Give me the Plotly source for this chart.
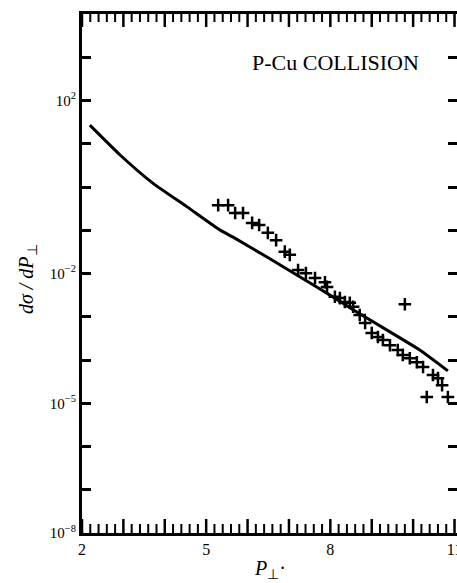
import plotly.graph_objects as go

# Theory curve
curve_pt = [2.19, 2.92, 3.71, 4.54, 5.33, 5.65, 6.47, 7.27, 8.06, 8.55, 9.37, 10.16, 10.84]
curve_val = [26.9, 5.50, 1.23, 0.347, 0.102, 0.0692, 0.0240, 0.00832, 0.00288,
             0.00145, 4.9e-4, 1.7e-4, 5.6e-5]

# Experimental points (crosses)
data_pt = [5.29, 5.53, 5.70, 5.89, 6.11, 6.28, 6.49, 6.69, 6.90, 7.02, 7.22, 7.41,
           7.63, 7.87, 7.92, 8.11, 8.23, 8.35, 8.47, 8.55, 8.71, 8.84, 9.00, 9.15,
           9.27, 9.44, 9.63, 9.75, 9.92, 10.09, 10.24, 10.48, 10.60, 10.70, 10.33,
           10.84, 9.80]
data_val = [0.38, 0.38, 0.25, 0.25, 0.148, 0.132, 0.087, 0.059, 0.032, 0.027, 0.012,
            0.0102, 0.0079, 0.0063, 0.0049, 0.0029, 0.0027, 0.0022, 0.0021, 0.0017,
            0.0011, 7.2e-4, 4.2e-4, 3.4e-4, 2.9e-4, 2.2e-4, 1.7e-4, 1.3e-4, 1.1e-4,
            8.9e-5, 6.9e-5, 4.5e-5, 3.8e-5, 2.6e-5, 1.4e-5, 1.4e-5, 0.00195]

# x ticks: labels at 2, 5, 8, 11; major tick every unit, minor every 0.2
x_tick_vals = [2, 5, 8, 11]
x_tick_text = ["2", "5", "8", "11"]
x_major_ticks = [2, 3, 4, 5, 6, 7, 8, 9, 10, 11]
x_minor_step = 0.2
y_tick_vals = [1e-8, 1e-7, 1e-6, 1e-5, 1e-4, 1e-3, 1e-2, 1e-1, 1, 10, 100, 1e3, 1e4]
y_tick_text = ["10<sup>−8</sup>", "", "", "10<sup>−5</sup>", "", "", "10<sup>−2</sup>",
               "", "", "", "10<sup>2</sup>", "", ""]

SERIF = "Liberation Serif, Times New Roman, serif"
XRANGE = [2, 11.06]
PLOT_H = 583 - 14 - 50  # plot-area height in px

fig = go.Figure()
fig.add_trace(go.Scatter(x=curve_pt, y=curve_val, mode="lines", line_shape="spline",
                         line=dict(color="black", width=3, smoothing=0.5),
                         showlegend=False))
fig.add_trace(go.Scatter(x=data_pt, y=data_val, mode="markers",
                         marker=dict(symbol="cross-thin", size=9,
                                     line=dict(color="black", width=2.5)),
                         showlegend=False))

# tick marks on bottom and top frame (drawn as axis decorations)
minor_ticks = []
k = 0
while XRANGE[0] + k * x_minor_step <= XRANGE[1]:
    v = round(XRANGE[0] + k * x_minor_step, 6)
    if abs(v - round(v)) > 1e-6:
        minor_ticks.append(v)
    k += 1

shapes = []
for v in x_major_ticks:
    shapes.append(dict(type="line", xref="x", yref="y domain", x0=v, x1=v,
                       y0=0, y1=14 / PLOT_H, line=dict(color="black", width=2.5)))
    shapes.append(dict(type="line", xref="x", yref="y domain", x0=v, x1=v,
                       y0=1, y1=1 - 13 / PLOT_H, line=dict(color="black", width=2.5)))
for v in minor_ticks:
    shapes.append(dict(type="line", xref="x", yref="y domain", x0=v, x1=v,
                       y0=0, y1=9 / PLOT_H, line=dict(color="black", width=2)))
    shapes.append(dict(type="line", xref="x", yref="y domain", x0=v, x1=v,
                       y0=1, y1=1 - 8 / PLOT_H, line=dict(color="black", width=2)))

fig.update_layout(
    width=457, height=583,
    margin=dict(l=82, r=0, t=14, b=50),
    paper_bgcolor="white", plot_bgcolor="white",
    font=dict(family=SERIF, color="black", size=16),
    xaxis=dict(range=XRANGE, domain=[0, 1], showgrid=False, zeroline=False,
               automargin=False, showline=True, linewidth=3, linecolor="black",
               mirror=True, ticks="", tickmode="array", tickvals=x_tick_vals,
               ticktext=x_tick_text, ticklabeloverflow="allow",
               tickfont=dict(size=16)),
    yaxis=dict(type="log", range=[-8, 4], showgrid=False, zeroline=False, automargin=False,
               showline=True, linewidth=3, linecolor="black", mirror="ticks",
               ticks="inside", ticklen=9, tickwidth=2.5, tickcolor="black",
               tickmode="array", tickvals=y_tick_vals, ticktext=y_tick_text,
               tickfont=dict(size=15)),
    shapes=shapes,
    annotations=[
        dict(text="P-Cu COLLISION", xref="paper", yref="paper", x=0.677, y=0.906,
             xanchor="center", yanchor="middle", showarrow=False,
             font=dict(size=22, family=SERIF)),
        dict(text="<i>dσ / dP</i><sub>⊥</sub>", xref="paper", yref="paper",
             x=-0.147, y=0.489, xanchor="center", yanchor="middle",
             textangle=-90, showarrow=False, font=dict(size=20, family=SERIF)),
        dict(text="<i>P</i><sub>⊥</sub>·", xref="paper", yref="paper",
             x=0.5, y=-0.07, showarrow=False, xanchor="center", yanchor="middle",
             font=dict(size=20, family=SERIF)),
    ],
)

fig.write_html("out.html")
